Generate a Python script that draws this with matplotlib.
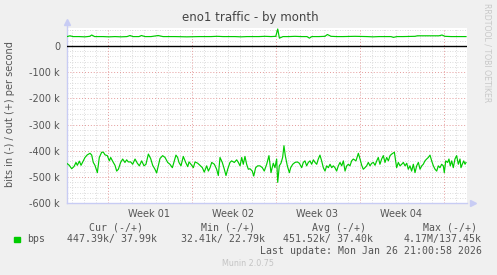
import numpy as np
import matplotlib.pyplot as plt

# Zeit in Tagen ab linkem Rand, Werte in k (bit/s); "in" negativ, "out" positiv
in_days = [0.0, 0.19, 0.39, 0.58, 0.75, 0.86, 1.03, 1.17, 1.31, 1.5, 1.69, 1.92, 2.06, 2.19, 2.33, 2.53,
           2.69, 2.89, 3.03, 3.17, 3.36, 3.53, 3.64, 3.86, 4.0, 4.14, 4.28, 4.47, 4.64, 4.83, 4.97, 5.11,
           5.31, 5.47, 5.67, 5.86, 6.03, 6.22, 6.42, 6.58, 6.78, 6.97, 7.14, 7.33, 7.47, 7.61, 7.75, 7.97, 8.17,
           8.39, 8.58, 8.78, 8.94, 9.08, 9.22, 9.33, 9.5, 9.69, 9.89, 10.06, 10.17, 10.33, 10.53, 10.67, 10.89,
           11.08, 11.28, 11.44, 11.64, 11.78, 11.92, 12.06, 12.28, 12.47, 12.61, 12.75, 12.94, 13.11, 13.25,
           13.39, 13.58, 13.72, 13.94, 14.14, 14.28, 14.42, 14.56, 14.69, 14.83, 14.97, 15.11, 15.25, 15.44,
           15.56, 15.72, 15.89, 16.08, 16.28, 16.44, 16.64, 16.83, 17.0,
           17.19, 17.33, 17.47, 17.56, 17.69, 17.83, 17.97, 18.08, 18.19, 18.36, 18.53, 18.64, 18.81, 19.0,
           19.19, 19.36, 19.56, 19.69, 19.83, 19.97, 20.11, 20.25, 20.39, 20.53, 20.67, 20.81, 20.94, 21.08,
           21.22, 21.36, 21.5, 21.64, 21.78, 21.92, 22.06, 22.19, 22.33, 22.47, 22.61, 22.75, 22.89, 23.03,
           23.17, 23.31, 23.44, 23.58, 23.72, 23.86, 24.08, 24.28, 24.42, 24.56, 24.69, 24.83, 24.97, 25.11,
           25.25, 25.39, 25.53, 25.67,
           25.81, 25.94, 26.08, 26.22, 26.36, 26.5, 26.64, 26.78, 26.92, 27.06, 27.19, 27.28, 27.39, 27.47,
           27.61, 27.75, 27.89, 28.03, 28.17, 28.31, 28.44, 28.58, 28.72, 28.86, 29.0, 29.14, 29.28, 29.42,
           29.56, 29.69, 29.83, 29.97, 30.11, 30.25, 30.39, 30.53, 30.67, 30.81, 30.94, 31.08, 31.22, 31.36,
           31.44, 31.56, 31.72, 31.83, 31.94, 32.06, 32.19, 32.33, 32.47, 32.61, 32.75, 32.83, 32.94, 33.06,
           33.17, 33.25]
in_vals = [-449, -456, -469, -461, -445, -456, -440, -456, -443, -426, -416, -410, -417, -445, -456, -484,
           -426, -406, -406, -416, -419, -439, -426, -445, -456, -478, -471, -445, -432, -445, -435, -443,
           -443, -452, -432, -448, -458, -439, -458, -452, -413, -430, -456, -471, -485, -458, -430, -419, -426,
           -445, -452, -465, -439, -417, -426, -445, -458, -422, -445, -461, -443, -452, -465, -443, -448,
           -456, -465, -482, -458, -478, -465, -445, -452, -471, -495, -426, -445, -471, -495,
           -471, -445, -439, -445, -435, -445, -458, -426, -452, -422, -452, -471, -469, -478,
           -497, -465, -458, -458, -465, -478, -452, -419, -484,
           -448, -465, -432, -521, -458, -448, -426, -381, -419, -458, -484, -465, -452, -445,
           -443, -448, -465, -445, -439, -458, -445, -439, -452, -435, -445, -452, -432, -417,
           -439, -465, -478, -458, -465, -452, -465, -458, -465, -478, -458, -445, -458, -439,
           -478, -458, -452, -458, -439, -432, -439, -410, -432, -456, -471, -465, -458, -445,
           -458, -448, -445, -456,
           -439, -426, -452, -432, -419, -445, -426, -439, -419, -413, -409, -406, -439, -465,
           -445, -458, -452, -445, -458, -448, -471, -458, -478, -452, -484, -458, -445, -471,
           -458, -452, -439, -432, -426, -417, -439, -458, -471, -478, -458, -465, -452, -458,
           -484, -439, -445, -432, -458, -439, -465, -432, -419, -452, -432, -465, -452, -439,
           -452, -445]

out_days = [0.0, 0.25, 0.5, 1.0, 1.5, 1.9, 2.06, 2.3, 3.0, 3.5, 4.0, 4.5, 5.0, 5.25, 5.5, 6.0, 6.2, 6.5,
            7.0, 7.6, 8.0, 9.0, 10.0, 11.0, 12.0, 12.5, 13.0, 14.0, 14.5, 15.0, 16.0, 16.5, 17.0, 17.4,
            17.56, 17.7, 18.0, 18.5, 19.0, 19.5, 20.0, 20.2, 20.4, 21.0, 21.5, 21.7, 22.0, 22.5, 23.0, 24.0,
            25.0, 25.5, 26.0, 27.0, 27.2, 27.5, 28.0, 29.0, 29.2, 30.0, 31.0, 31.25, 31.5, 32.0, 33.0, 33.25]
out_vals = [36, 39, 36, 36, 35, 37, 42, 36, 36, 35, 36, 35, 36, 40, 36, 36, 40, 36,
            36, 40, 36, 36, 35, 36, 36, 37, 36, 36, 35, 36, 36, 37, 36, 37,
            65, 30, 36, 36, 37, 36, 36, 30, 36, 36, 37, 44, 37, 36, 36, 37,
            36, 35, 36, 36, 33, 36, 36, 37, 39, 39, 39, 42, 37, 36, 36, 36]

week_labels = ['Week 01', 'Week 02', 'Week 03', 'Week 04']
y_ticks = [0, -100, -200, -300, -400, -500, -600]
y_labels = ['0', '-100 k', '-200 k', '-300 k', '-400 k', '-500 k', '-600 k']

legend_heads = ['Cur (-/+)', 'Min (-/+)', 'Avg (-/+)', 'Max (-/+)']
legend_vals = ['447.39k/ 37.99k', '32.41k/ 22.79k', '451.52k/ 37.40k', '4.17M/137.45k']

W, H = 497, 275
first_day = 0.375      # erste Tageslinie
first_week = 3.375     # erste Wochenlinie
span = 400 / 12        # 12 px pro Tag

def px(x, y):
    return x / W, 1 - y / H

fig = plt.figure(figsize=(W / 100, H / 100), dpi=100, facecolor='#f0f0f0')
ax = fig.add_axes([67 / W, 1 - 203 / H, 400 / W, 175 / H])
ax.set_facecolor('white')
ax.set_xlim(0, span)
ax.set_ylim(-600, 68.8)

# Raster
dot = (0, (1, 2))
weeks = np.arange(first_week, span, 7)
for d in np.arange(first_day, span, 1):
    if np.min(np.abs(weeks - d)) > 0.01:
        ax.axvline(d, color='#d0d0d0', lw=0.6, ls=dot, zorder=1)
for v in range(-580, 69, 20):
    if v % 100 != 0:
        ax.axhline(v, color='#d0d0d0', lw=0.6, ls=dot, zorder=1)
for d in weeks:
    ax.axvline(d, color='#e49a9a', lw=0.7, ls=dot, zorder=1)
for v in y_ticks[1:]:
    ax.axhline(v, color='#e49a9a', lw=0.7, ls=dot, zorder=1)

ax.axhline(0, color='black', lw=1.0, zorder=3)
ax.plot(in_days, in_vals, color='#00cc00', lw=0.85, zorder=4)
ax.plot(out_days, out_vals, color='#00cc00', lw=0.85, zorder=4)

for s in ['top', 'right']:
    ax.spines[s].set_visible(False)
for s in ['left', 'bottom']:
    ax.spines[s].set_color('#c8ccf4')
    ax.spines[s].set_linewidth(1.0)
ax.spines['left'].set_bounds(-600, 80)
ax.plot([0], [1.035], marker='^', ms=5, color='#c8ccf4', transform=ax.transAxes, clip_on=False)
ax.plot([1.015], [0], marker='>', ms=5, color='#c8ccf4', transform=ax.transAxes, clip_on=False)

ax.set_yticks(y_ticks, y_labels)
ax.set_xticks(weeks[:4] + 3.5, week_labels)
ax.tick_params(length=0, labelsize=7, colors='#555555')
ax.tick_params(axis='y', pad=5)
ax.tick_params(axis='x', pad=4)

fig.text(*px(250, 18), 'eno1 traffic - by month', ha='center', va='center', fontsize=8.5, color='#444444')
fig.text(*px(10, 114), 'bits in (-) / out (+) per second', rotation=90, ha='center', va='center',
         fontsize=7, color='#555555')
fig.text(*px(487, 53), 'RRDTOOL / TOBI OETIKER', rotation=270, ha='center', va='center',
         fontsize=5.6, color='#c8c8c8')

mono = dict(family='DejaVu Sans Mono', fontsize=7.15, color='#555555', va='center')
head_x = [89.3, 200.7, 312.3, 423.3]
val_x = [66.7, 180.7, 283.3, 403.3]
for hx, h in zip(head_x, legend_heads):
    fig.text(*px(hx, 228), h, ha='left', **mono)
for vx, v in zip(val_x, legend_vals):
    fig.text(*px(vx, 239), v, ha='left', **mono)
fig.patches.append(plt.Rectangle(px(14, 242), 5.5 / W, 5.5 / H, color='#00cc00',
                                 transform=fig.transFigure, figure=fig))
fig.text(*px(26.7, 239), 'bps', ha='left', **mono)
fig.text(*px(482.3, 251), 'Last update: Mon Jan 26 21:00:58 2026', ha='right', **mono)
fig.text(*px(248, 264), 'Munin 2.0.75', ha='center', va='center', fontsize=5.8, color='#c4c4c4')

fig.savefig('out.png', dpi=100, facecolor=fig.get_facecolor())
